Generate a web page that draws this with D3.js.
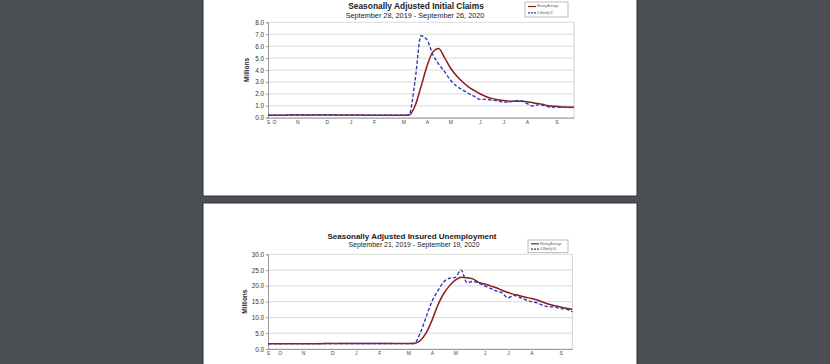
<!DOCTYPE html>
<html><head><meta charset="utf-8">
<script src="https://cdn.jsdelivr.net/npm/d3@7"></script>
<style>
html,body{margin:0;padding:0;background:#4b4f54;}
svg{display:block;}
</style></head><body>
<svg id="c" width="830" height="364"></svg>
<script>
// ---------- DATA ----------
// Initial claims (millions), weekly, week ending Sep 28 2019 .. Sep 26 2020 (53 weeks)
const icWeekly = [0.215,0.218,0.211,0.217,0.226,0.223,0.228,0.212,0.225,0.252,0.234,0.222,0.218,0.214,0.212,0.220,0.216,0.212,0.204,0.207,0.212,0.218,0.215,0.211,0.282,3.15,6.87,6.55,5.3,4.5,3.86,3.16,2.66,2.35,2.05,1.8,1.54,1.54,1.48,1.43,1.31,1.31,1.42,1.43,1.19,0.98,1.10,1.01,0.88,0.89,0.87,0.87,0.84];
const icAverage = [0.214,0.215,0.214,0.215,0.218,0.219,0.223,0.222,0.222,0.229,0.231,0.233,0.232,0.222,0.217,0.216,0.216,0.215,0.213,0.210,0.209,0.210,0.213,0.214,0.23,1.0,2.6,4.3,5.5,5.8,5.04,4.17,3.54,3.03,2.61,2.29,2.01,1.78,1.62,1.50,1.44,1.38,1.37,1.37,1.34,1.25,1.18,1.07,0.98,0.95,0.90,0.88,0.87];
// Insured unemployment (millions), weekly, week ending Sep 21 2019 .. Sep 19 2020 (53 weeks)
const iuWeekly = [1.68,1.69,1.68,1.70,1.69,1.69,1.70,1.69,1.71,1.72,1.73,1.71,1.72,1.73,1.75,1.74,1.73,1.72,1.74,1.72,1.72,1.73,1.70,1.71,1.70,1.8,5.0,10.0,15.0,18.3,21.2,22.4,22.7,25.0,21.0,21.4,20.9,20.0,19.2,18.4,17.8,16.2,17.0,16.4,15.6,15.0,14.6,13.8,13.4,13.3,12.8,12.6,11.8];
const iuAverage = [1.68,1.68,1.68,1.69,1.69,1.69,1.69,1.69,1.70,1.70,1.71,1.71,1.72,1.72,1.73,1.73,1.74,1.73,1.73,1.73,1.72,1.72,1.72,1.71,1.71,1.75,2.6,5.0,9.0,13.8,17.5,20.0,21.8,22.7,22.6,22.2,21.1,20.6,20.0,19.4,18.6,17.9,17.3,16.9,16.4,16.0,15.5,14.8,14.2,13.7,13.3,12.9,12.6];
// X tick labels (week index of first Saturday of each month)
const icTickIdx = [0,1,5,10,14,18,23,27,31,36,40,44,49];
const iuTickIdx = [0,2,6,11,15,19,24,28,32,37,41,45,50];
const monthLabels = ["S","O","N","D","J","F","M","A","M","J","J","A","S"];
const icYTicks = [0,1,2,3,4,5,6,7,8];
const iuYTicks = [0,5,10,15,20,25,30];
const legendLabels = {ic:["Moving Average","4-Weekly IC"], iu:["Moving Average","4-Weekly IU"]};

// ---------- DRAW ----------
const svg = d3.select("#c");
svg.append("rect").attr("x",203).attr("y",-2).attr("width",434).attr("height",198)
  .attr("fill","#fff").attr("stroke","#2f3236").attr("stroke-width",1);
svg.append("rect").attr("x",203).attr("y",203).attr("width",434).attr("height",170)
  .attr("fill","#fff").attr("stroke","#2f3236").attr("stroke-width",1);

const RED = "#8a1c1c", BLUE = "#2f3cb5";
const FONT = "Liberation Sans, Arial, sans-serif";

function chart(o){
  const g = svg.append("g");
  const x = d3.scaleLinear().domain([0, o.weekly.length-1]).range([o.x0, o.x1]);
  const y = d3.scaleLinear().domain([0, o.ymax]).range([o.yb, o.yt]);
  g.selectAll(".grid").data(o.yticks).join("line")
    .attr("x1",o.x0).attr("x2",o.x1).attr("y1",d=>y(d)).attr("y2",d=>y(d))
    .attr("stroke","#dadada").attr("stroke-width",1);
  g.append("line").attr("x1",o.x1).attr("x2",o.x1).attr("y1",o.yt).attr("y2",o.yb).attr("stroke","#d0d0d0");
  const ya = d3.axisLeft(y).tickValues(o.yticks).tickFormat(d3.format(".1f")).tickSize(2).tickPadding(2);
  const yg = g.append("g").attr("transform",`translate(${o.x0},0)`).call(ya);
  yg.select(".domain").attr("stroke","#999");
  yg.selectAll(".tick line").attr("stroke","#999");
  yg.selectAll("text").attr("font-family",FONT).attr("font-size","6.3px").attr("fill","#333");
  const xa = d3.axisBottom(x).tickValues(o.tickIdx).tickFormat((d,i)=>monthLabels[i]).tickSize(0).tickPadding(2.5);
  const xg = g.append("g").attr("transform",`translate(0,${o.yb})`).call(xa);
  xg.select(".domain").attr("stroke","#999");
  xg.selectAll("text").attr("font-family",FONT).attr("font-size","5px").attr("fill","#444");
  g.append("text").attr("transform",`translate(${o.ylabX},${(o.yt+o.yb)/2}) rotate(-90)`)
    .attr("text-anchor","middle").attr("dominant-baseline","middle")
    .attr("font-family",FONT).attr("font-weight","bold").attr("font-size","6.5px").attr("fill","#222")
    .text("Millions");
  const line = d3.line().x((d,i)=>x(i)).y(d=>y(d)).curve(d3.curveMonotoneX);
  g.append("path").attr("d",line(o.average)).attr("fill","none").attr("stroke",RED).attr("stroke-width",1.5);
  g.append("path").attr("d",line(o.weekly)).attr("fill","none").attr("stroke",BLUE).attr("stroke-width",1.4).attr("stroke-dasharray","3.5,2");
  g.append("text").attr("x",o.titleX).attr("y",o.titleY).attr("text-anchor","middle").attr("dominant-baseline","middle")
    .attr("font-family",FONT).attr("font-weight","bold").attr("font-size",o.titleSize+"px").attr("fill","#222")
    .text(o.title);
  g.append("text").attr("x",o.subX).attr("y",o.subY).attr("text-anchor","middle").attr("dominant-baseline","middle")
    .attr("font-family",FONT).attr("font-size",o.subSize+"px").attr("fill","#222")
    .text(o.sub);
  const L = o.legend;
  g.append("rect").attr("x",L.x).attr("y",L.y).attr("width",L.w).attr("height",L.h)
    .attr("fill","#fff").attr("stroke","#aaa").attr("stroke-width",0.8);
  const items = [{c:RED,d:null,t:o.legendText[0]},{c:BLUE,d:"2,1",t:o.legendText[1]}];
  items.forEach((it,i)=>{
    const yy = L.y + L.h*(i===0?0.3:0.72);
    g.append("line").attr("x1",L.x+3).attr("x2",L.x+11).attr("y1",yy).attr("y2",yy)
      .attr("stroke",it.c).attr("stroke-width",1.2).attr("stroke-dasharray",it.d);
    g.append("text").attr("x",L.x+12).attr("y",yy).attr("dominant-baseline","middle")
      .attr("font-family",FONT).attr("font-size","3px").attr("fill","#555").text(it.t);
  });
}

chart({weekly:icWeekly, average:icAverage, x0:268, x1:574, yt:22.3, yb:117.7, ymax:8, yticks:icYTicks, tickIdx:icTickIdx,
  ylabX:247, title:"Seasonally Adjusted Initial Claims", titleX:416, titleY:6.5, titleSize:8.4,
  sub:"September 28, 2019 - September 26, 2020", subX:415, subY:15.8, subSize:7.3,
  legend:{x:525,y:2,w:43,h:15}, legendText:legendLabels.ic});
chart({weekly:iuWeekly, average:iuAverage, x0:268, x1:572.3, yt:254.3, yb:349, ymax:30, yticks:iuYTicks, tickIdx:iuTickIdx,
  ylabX:245, title:"Seasonally Adjusted Insured Unemployment", titleX:412, titleY:236.9, titleSize:8.0,
  sub:"September 21, 2019 - September 19, 2020", subX:414, subY:245.3, subSize:6.9,
  legend:{x:528,y:240,w:40,h:12.7}, legendText:legendLabels.iu});
</script>
</body></html>
